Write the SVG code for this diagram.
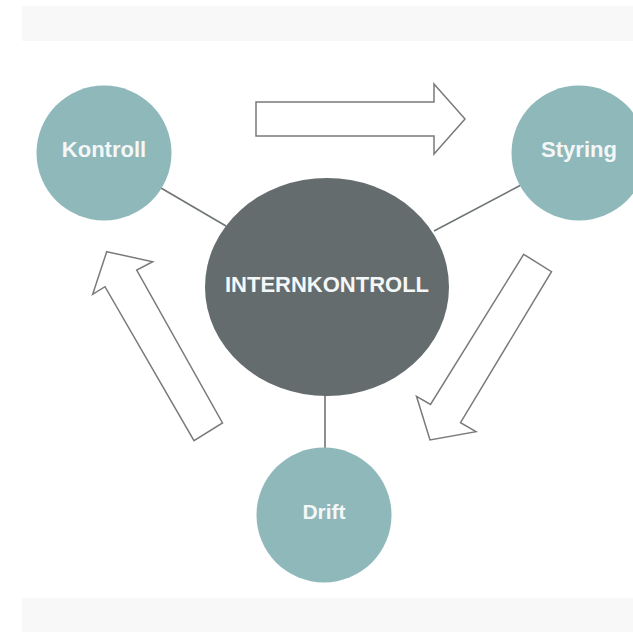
<svg xmlns="http://www.w3.org/2000/svg" width="633" height="632" viewBox="0 0 633 632">
<style>
.band{fill:#f8f8f8}
.small{fill:#8fb8ba}
.core{fill:#646c6e}
.lbl{font-family:"Liberation Sans",Arial,sans-serif;font-weight:bold;fill:#f4f7f7;text-anchor:middle}
.conn{stroke:#6f7475;stroke-width:1.6;fill:none}
.arrow{fill:#ffffff;stroke:#7a7a7a;stroke-width:1.5;stroke-linejoin:miter}
</style>
<rect x="0" y="0" width="633" height="632" fill="#ffffff"/>
<rect class="band" x="22" y="6" width="611" height="35"/>
<rect class="band" x="22" y="598" width="611" height="34"/>
<g id="connectors">
<line class="conn" x1="161" y1="188" x2="226" y2="226"/>
<line class="conn" x1="521" y1="185" x2="434" y2="231"/>
<line class="conn" x1="325" y1="394" x2="325" y2="450"/>
</g>
<g id="arrows">
<polygon class="arrow" points="256,102 434,102 434,84 465,119 434,154 434,136 256,136"/>
<polygon class="arrow" points="106.7,251.7 152.7,261.7 136.7,270 222.5,423 194,440.7 105,286.7 92.7,294.3"/>
<polygon class="arrow" points="523.7,254.3 551.5,271.7 460.5,422.7 476,431.7 430,440 416.5,396.3 430.5,404.5"/>
</g>
<g id="node-intern">
<ellipse class="core" cx="327" cy="287" rx="122" ry="109"/>
<text class="lbl" x="327" y="292" font-size="22">INTERNKONTROLL</text>
</g>
<g id="node-kontroll">
<circle class="small" cx="104" cy="153" r="67.5"/>
<text class="lbl" x="104" y="157" font-size="22">Kontroll</text>
</g>
<g id="node-styring">
<circle class="small" cx="579" cy="153" r="67.5"/>
<text class="lbl" x="579" y="157" font-size="22">Styring</text>
</g>
<g id="node-drift">
<circle class="small" cx="324" cy="515" r="67.5"/>
<text class="lbl" x="324" y="519" font-size="21">Drift</text>
</g>
</svg>
